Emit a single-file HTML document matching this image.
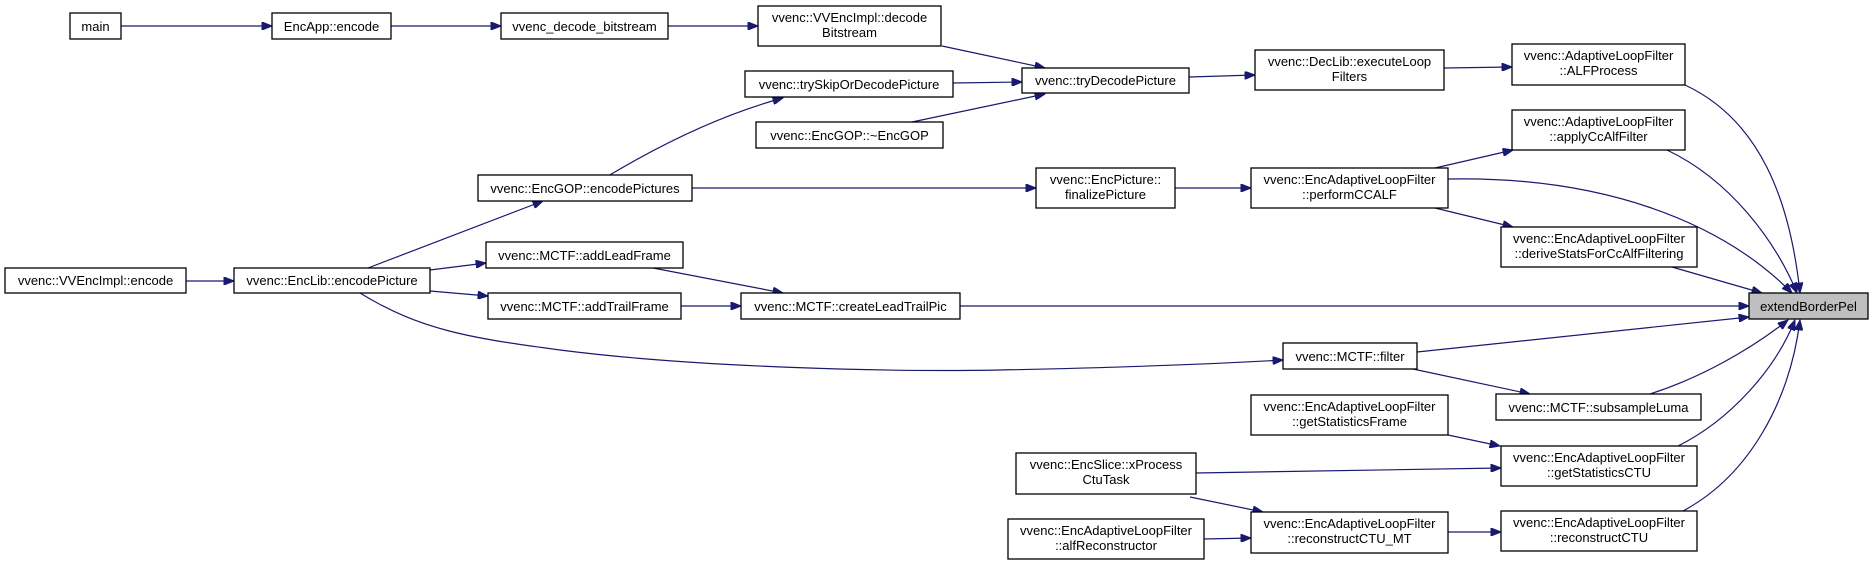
<!DOCTYPE html>
<html><head><meta charset="utf-8"><style>
html,body{margin:0;padding:0;background:#fff;}
svg{display:block;}
text{font-family:"Liberation Sans",Arial,sans-serif;font-size:13px;fill:#000;text-anchor:middle;}
.b{fill:#fff;stroke:#000;stroke-width:1.3;}
.e{fill:none;stroke:#191970;stroke-width:1.2;}
</style></head><body>
<svg width="1873" height="565" viewBox="0 0 1873 565" xmlns="http://www.w3.org/2000/svg">
<defs>
<marker id="a" viewBox="0 0 10 8" refX="10" refY="4" markerWidth="11" markerHeight="8" markerUnits="userSpaceOnUse" orient="auto">
<path d="M0,0 L10,4 L0,8 z" fill="#191970" stroke="#191970"/>
</marker>
</defs>
<g marker-end="url(#a)">
<path class="e" d="M121,26 L272,26"/>
<path class="e" d="M391,26 L501,26"/>
<path class="e" d="M668,26 L758,26"/>
<path class="e" d="M942,46 L1045,68"/>
<path class="e" d="M953,83 L1022,82"/>
<path class="e" d="M912,122 L1045,94"/>
<path class="e" d="M1189,77 L1255,75"/>
<path class="e" d="M1444,68 L1512,67"/>
<path class="e" d="M1685,85 C1760,120 1790,200 1800,293"/>
<path class="e" d="M1667,150 C1730,180 1775,240 1797,293"/>
<path class="e" d="M1448,179 C1600,176 1720,220 1792,293"/>
<path class="e" d="M1672,267 L1762,293"/>
<path class="e" d="M960,306 L1749,306"/>
<path class="e" d="M1417,352 L1749,317"/>
<path class="e" d="M1650,394 C1700,378 1750,350 1788,320"/>
<path class="e" d="M1678,446 C1730,420 1775,370 1795,320"/>
<path class="e" d="M1683,511 C1750,475 1790,400 1800,320"/>
<path class="e" d="M608,176 C660,145 720,115 783,98"/>
<path class="e" d="M692,188 L1036,188"/>
<path class="e" d="M1175,188 L1251,188"/>
<path class="e" d="M1435,168 L1513,150"/>
<path class="e" d="M1435,208 L1513,227"/>
<path class="e" d="M368,268 L543,201"/>
<path class="e" d="M430,270 L486,263"/>
<path class="e" d="M430,291 L488,296"/>
<path class="e" d="M186,281 L234,281"/>
<path class="e" d="M653,268 L783,293"/>
<path class="e" d="M681,306 L741,306"/>
<path class="e" d="M360,293 C420,330 470,338 560,350 C700,368 900,372 1000,370 C1150,367 1230,363 1283,360"/>
<path class="e" d="M1413,369 L1530,394"/>
<path class="e" d="M1448,435 L1500,446"/>
<path class="e" d="M1196,473 L1501,468"/>
<path class="e" d="M1190,497 L1263,512"/>
<path class="e" d="M1204,539 L1251,538"/>
<path class="e" d="M1448,532 L1501,532"/>
</g>

<rect class="b" x="70" y="13" width="51" height="26"/><text x="95.5" y="31">main</text>
<rect class="b" x="272" y="13" width="119" height="26"/><text x="331.5" y="31">EncApp::encode</text>
<rect class="b" x="501" y="13" width="167" height="26"/><text x="584.5" y="31">vvenc_decode_bitstream</text>
<rect class="b" x="758" y="6" width="183" height="40"/><text x="849.5" y="22">vvenc::VVEncImpl::decode</text><text x="849.5" y="37">Bitstream</text>
<rect class="b" x="745" y="71" width="208" height="26"/><text x="849" y="89">vvenc::trySkipOrDecodePicture</text>
<rect class="b" x="756" y="122" width="187" height="26"/><text x="849.5" y="140">vvenc::EncGOP::~EncGOP</text>
<rect class="b" x="1022" y="68" width="167" height="25"/><text x="1105.5" y="85">vvenc::tryDecodePicture</text>
<rect class="b" x="1255" y="50" width="189" height="40"/><text x="1349.5" y="66">vvenc::DecLib::executeLoop</text><text x="1349.5" y="81">Filters</text>
<rect class="b" x="1512" y="44" width="173" height="41"/><text x="1598.5" y="60">vvenc::AdaptiveLoopFilter</text><text x="1598.5" y="75">::ALFProcess</text>
<rect class="b" x="1512" y="110" width="173" height="40"/><text x="1598.5" y="126">vvenc::AdaptiveLoopFilter</text><text x="1598.5" y="141">::applyCcAlfFilter</text>
<rect class="b" x="478" y="175" width="214" height="26"/><text x="585" y="193">vvenc::EncGOP::encodePictures</text>
<rect class="b" x="1036" y="168" width="139" height="40"/><text x="1105.5" y="184">vvenc::EncPicture::</text><text x="1105.5" y="199">finalizePicture</text>
<rect class="b" x="1251" y="168" width="197" height="40"/><text x="1349.5" y="184">vvenc::EncAdaptiveLoopFilter</text><text x="1349.5" y="199">::performCCALF</text>
<rect class="b" x="1501" y="227" width="196" height="40"/><text x="1599" y="243">vvenc::EncAdaptiveLoopFilter</text><text x="1599" y="258">::deriveStatsForCcAlfFiltering</text>
<rect class="b" x="486" y="242" width="197" height="26"/><text x="584.5" y="260">vvenc::MCTF::addLeadFrame</text>
<rect class="b" x="5" y="268" width="181" height="25"/><text x="95.5" y="285">vvenc::VVEncImpl::encode</text>
<rect class="b" x="234" y="268" width="196" height="25"/><text x="332" y="285">vvenc::EncLib::encodePicture</text>
<rect class="b" x="488" y="293" width="193" height="26"/><text x="584.5" y="311">vvenc::MCTF::addTrailFrame</text>
<rect class="b" x="741" y="293" width="219" height="26"/><text x="850.5" y="311">vvenc::MCTF::createLeadTrailPic</text>
<rect x="1749" y="293" width="119" height="26" fill="#bfbfbf" stroke="#000" stroke-width="1.3"/><text x="1808.5" y="311">extendBorderPel</text>
<rect class="b" x="1283" y="343" width="134" height="26"/><text x="1350" y="361">vvenc::MCTF::filter</text>
<rect class="b" x="1496" y="394" width="205" height="26"/><text x="1598.5" y="412">vvenc::MCTF::subsampleLuma</text>
<rect class="b" x="1251" y="395" width="197" height="40"/><text x="1349.5" y="411">vvenc::EncAdaptiveLoopFilter</text><text x="1349.5" y="426">::getStatisticsFrame</text>
<rect class="b" x="1501" y="446" width="196" height="40"/><text x="1599" y="462">vvenc::EncAdaptiveLoopFilter</text><text x="1599" y="477">::getStatisticsCTU</text>
<rect class="b" x="1016" y="453" width="180" height="41"/><text x="1106" y="469">vvenc::EncSlice::xProcess</text><text x="1106" y="484">CtuTask</text>
<rect class="b" x="1008" y="519" width="196" height="40"/><text x="1106" y="535">vvenc::EncAdaptiveLoopFilter</text><text x="1106" y="550">::alfReconstructor</text>
<rect class="b" x="1251" y="512" width="197" height="41"/><text x="1349.5" y="528">vvenc::EncAdaptiveLoopFilter</text><text x="1349.5" y="543">::reconstructCTU_MT</text>
<rect class="b" x="1501" y="511" width="196" height="40"/><text x="1599" y="527">vvenc::EncAdaptiveLoopFilter</text><text x="1599" y="542">::reconstructCTU</text>
</svg>
</body></html>
